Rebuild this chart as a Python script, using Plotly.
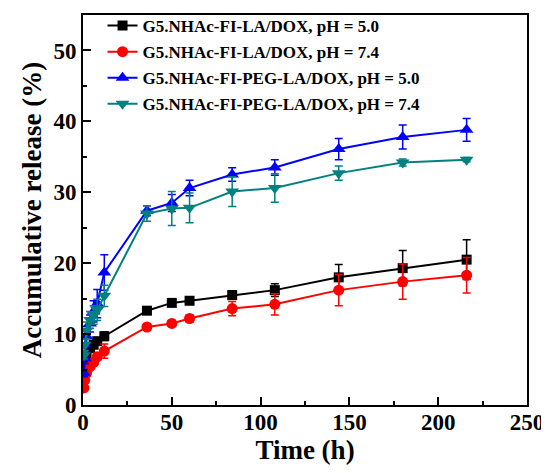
import plotly.graph_objects as go

time_h = [0.5, 1, 2, 4, 6, 8, 12, 36, 50, 60, 84, 108, 144, 180, 216]

names = [
    "G5.NHAc-FI-LA/DOX, pH = 5.0",
    "G5.NHAc-FI-LA/DOX, pH = 7.4",
    "G5.NHAc-FI-PEG-LA/DOX, pH = 5.0",
    "G5.NHAc-FI-PEG-LA/DOX, pH = 7.4",
]

la_ph50 = [5.2, 6.1, 7.0, 8.0, 8.5, 9.0, 9.7, 13.3, 14.4, 14.7, 15.5, 16.2, 18.0, 19.3, 20.5]
la_ph50_err = [0.3, 0.3, 0.4, 0.4, 0.4, 0.5, 0.6, 0.5, 0.4, 0.4, 0.6, 0.9, 1.8, 2.5, 2.8]

la_ph74 = [2.4, 3.5, 4.5, 5.4, 6.0, 6.8, 7.6, 11.0, 11.5, 12.2, 13.6, 14.2, 16.2, 17.4, 18.3]
la_ph74_err = [0.3, 0.3, 0.4, 0.4, 0.4, 0.5, 1.0, 0.4, 0.4, 0.5, 1.0, 1.5, 2.2, 2.5, 2.5]

peg_ph50 = [4.5, 6.6, 9.7, 11.5, 13.2, 14.3, 18.7, 27.4, 28.5, 30.6, 32.5, 33.5, 36.1, 37.8, 38.8]
peg_ph50_err = [0.5, 0.8, 1.4, 1.2, 1.5, 2.0, 2.5, 0.7, 1.2, 1.1, 0.95, 1.1, 1.5, 1.7, 1.6]

peg_ph74 = [7.0, 8.5, 10.5, 12.0, 12.7, 13.4, 15.4, 27.0, 27.7, 27.8, 30.1, 30.6, 32.7, 34.2, 34.6]
peg_ph74_err = [0.5, 0.8, 1.2, 1.2, 1.3, 1.5, 1.5, 1.1, 2.4, 2.1, 2.1, 2.0, 1.0, 0.5, 0.3]

series = [
    (names[0], la_ph50, la_ph50_err, "#000000", "square", 10),
    (names[1], la_ph74, la_ph74_err, "#FF0000", "circle", 11),
    (names[2], peg_ph50, peg_ph50_err, "#0000FF", "triangle-up", 12),
    (names[3], peg_ph74, peg_ph74_err, "#008080", "triangle-down", 12),
]

fig = go.Figure()
for i, (name, vals, errs, color, sym, size) in enumerate(series):
    fig.add_trace(go.Scatter(
        x=time_h, y=vals, name=name, mode="lines+markers",
        legendgroup="g%d" % i,
        line=dict(color=color, width=2),
        marker=dict(color=color, symbol=sym, size=size),
        error_y=dict(type="data", array=errs, visible=True, color=color,
                     thickness=1.5, width=4),
    ))

font_family = "Liberation Serif, Times New Roman, serif"

# page body has an 8px default margin; figure is sized to fit the window
fig.update_layout(
    width=541, height=465,
    margin=dict(l=75, r=22, t=7, b=68, autoexpand=False),
    paper_bgcolor="white", plot_bgcolor="white",
    font=dict(family=font_family, color="black"),
    showlegend=True,
    legend=dict(
        x=0.044, xanchor="left",
        y=1.0, yref="container", yanchor="top",
        bgcolor="rgba(0,0,0,0)", borderwidth=0,
        font=dict(family=font_family, size=17, color="black", weight="bold"),
        tracegroupgap=1, itemwidth=30,
    ),
)

fig.update_xaxes(
    range=[0, 250], tickmode="linear", tick0=0, dtick=50,
    ticks="inside", ticklen=8, tickwidth=2, tickcolor="black",
    minor=dict(ticks="inside", ticklen=4, tickwidth=2, tickcolor="black", dtick=25, tick0=0, showgrid=False),
    showline=True, linewidth=2, linecolor="black", mirror=True,
    showgrid=False, zeroline=False, automargin=False,
    ticklabelstandoff=-5,
    tickfont=dict(family=font_family, size=23, color="black", weight="bold"),
    title=dict(text="Time (h)", font=dict(family=font_family, size=27, color="black", weight="bold"), standoff=0),
)
fig.update_yaxes(
    range=[0, 55], tickmode="linear", tick0=0, dtick=10,
    ticks="inside", ticklen=8, tickwidth=2, tickcolor="black",
    minor=dict(ticks="inside", ticklen=4, tickwidth=2, tickcolor="black", dtick=5, tick0=0, showgrid=False),
    showline=True, linewidth=2, linecolor="black", mirror=True,
    showgrid=False, zeroline=False, automargin=False,
    tickfont=dict(family=font_family, size=23, color="black", weight="bold"),
    title=dict(text="Accumulative release (%)", font=dict(family=font_family, size=27, color="black", weight="bold"), standoff=4),
)

fig.write_html("out.html")
